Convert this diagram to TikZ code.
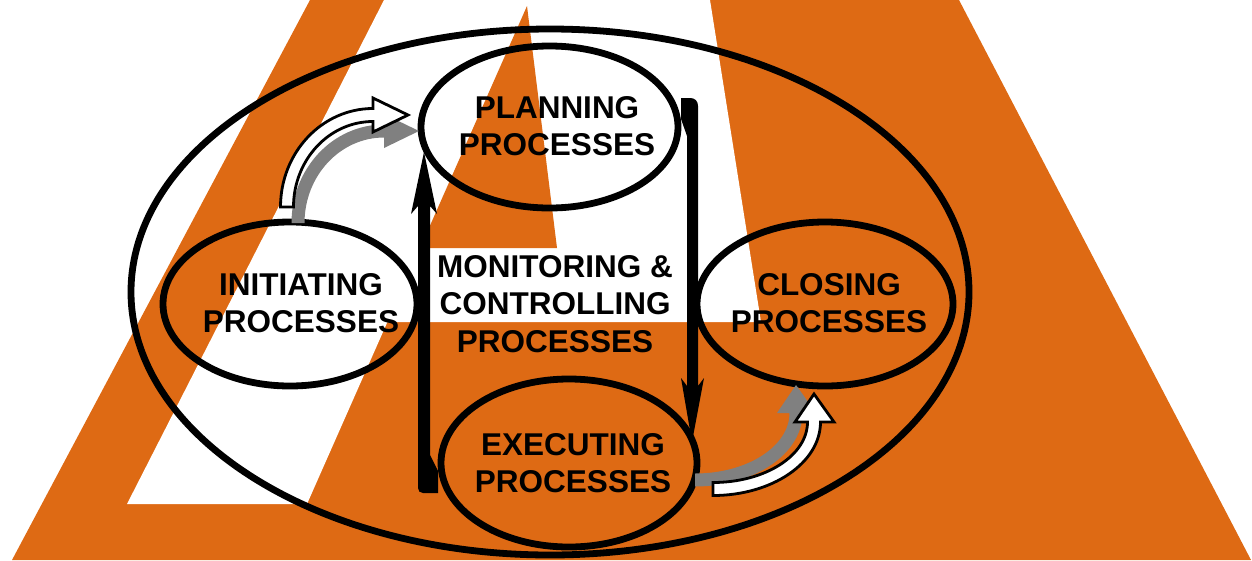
\documentclass[tikz,border=0pt]{standalone}
\usepackage{fontspec}
\setmainfont{Liberation Sans}
\usetikzlibrary{shapes.geometric}
\definecolor{bgorange}{RGB}{222,106,20}
\definecolor{shadowgray}{RGB}{128,128,128}
\tikzset{
  proc/.style={ellipse, draw=black, line width=6.8pt, inner sep=0pt},
  lbl/.style={font=\bfseries\fontsize{31.5}{37.5}\selectfont, align=center, inner sep=0pt, text=black},
  whitearrow/.style={fill=white, draw=black, line width=2.8pt, line join=miter},
  grayarrow/.style={fill=shadowgray},
}
\begin{document}
\begin{tikzpicture}[x=1pt,y=-1pt]
\useasboundingbox (0,0) rectangle (1252,560);
% background letter
\fill[bgorange] (310,0) -- (959,0) -- (1251,560) -- (12,560) -- cycle;
\fill[white] (384,0) -- (710,0) -- (761,322) -- (387.4,322) -- (307,504) -- (127,504) -- cycle;
\fill[bgorange] (527,6) -- (557,248) -- (420.1,248) -- cycle;

% outer ellipse and process ellipses
\node[proc, minimum width=838pt, minimum height=526pt] (outer) at (550,292) {};
\node[proc, minimum width=257pt, minimum height=162pt] (plan) at (549.5,127) {};
\node[proc, minimum width=254pt, minimum height=164pt] (init) at (290,304) {};
\node[proc, minimum width=256pt, minimum height=164pt] (close) at (825,304) {};
\node[proc, minimum width=256pt, minimum height=168pt] (exec) at (569,463) {};

% curved block arrow: initiating -> planning (shadow then white)
\begin{scope}[shift={(11,16)}]
\fill[grayarrow] (280.5,207) .. controls (280.5,152.6) and (321.9,108.5) .. (373,108.5) -- (373,98) -- (408,115) -- (373,132) -- (373,121.5) .. controls (329.1,121.5) and (293.5,159.8) .. (293.5,207) -- cycle;
\end{scope}
\path[whitearrow] (280.5,207) .. controls (280.5,152.6) and (321.9,108.5) .. (373,108.5) -- (373,98) -- (408,115) -- (373,132) -- (373,121.5) .. controls (329.1,121.5) and (293.5,159.8) .. (293.5,207) -- cycle;

% curved block arrow: executing -> closing (shadow then white)
\begin{scope}[shift={(-18,-9)}]
\fill[grayarrow] (713,482.5) -- (713,495.5) .. controls (772.4,495.5) and (820.5,462.6) .. (820.5,422) -- (834,422) -- (814,394) -- (795,422) -- (807.5,422) .. controls (807.5,455.4) and (765.2,482.5) .. (713,482.5) -- cycle;
\end{scope}
\path[whitearrow] (713,482.5) -- (713,495.5) .. controls (772.4,495.5) and (820.5,462.6) .. (820.5,422) -- (834,422) -- (814,394) -- (795,422) -- (807.5,422) .. controls (807.5,455.4) and (765.2,482.5) .. (713,482.5) -- cycle;

% monitoring arrows
\fill[black] (424,152) -- (437,214) -- (430,206) -- (430,455) -- (438,471) -- (438,493) -- (423,493) .. controls (420,493) and (418,491) .. (418,488) -- (418,206) -- (411,214) -- cycle;
\fill[black] (692,442) -- (681,378) -- (687,386) -- (687,136) -- (681,119) -- (681,98) -- (690,98) .. controls (695,98) and (698,101) .. (698,106) -- (698,386) -- (704,378) -- cycle;

% labels
\node[lbl] (planT) at (557,126) {PLANNING\\PROCESSES};
\node[lbl] (initT) at (301,303) {INITIATING\\PROCESSES};
\node[lbl] (monT) at (555,304) {MONITORING \&\\CONTROLLING\\PROCESSES};
\node[lbl] (closeT) at (829,303) {CLOSING\\PROCESSES};
\node[lbl] (execT) at (573,463) {EXECUTING\\PROCESSES};
\end{tikzpicture}
\end{document}
